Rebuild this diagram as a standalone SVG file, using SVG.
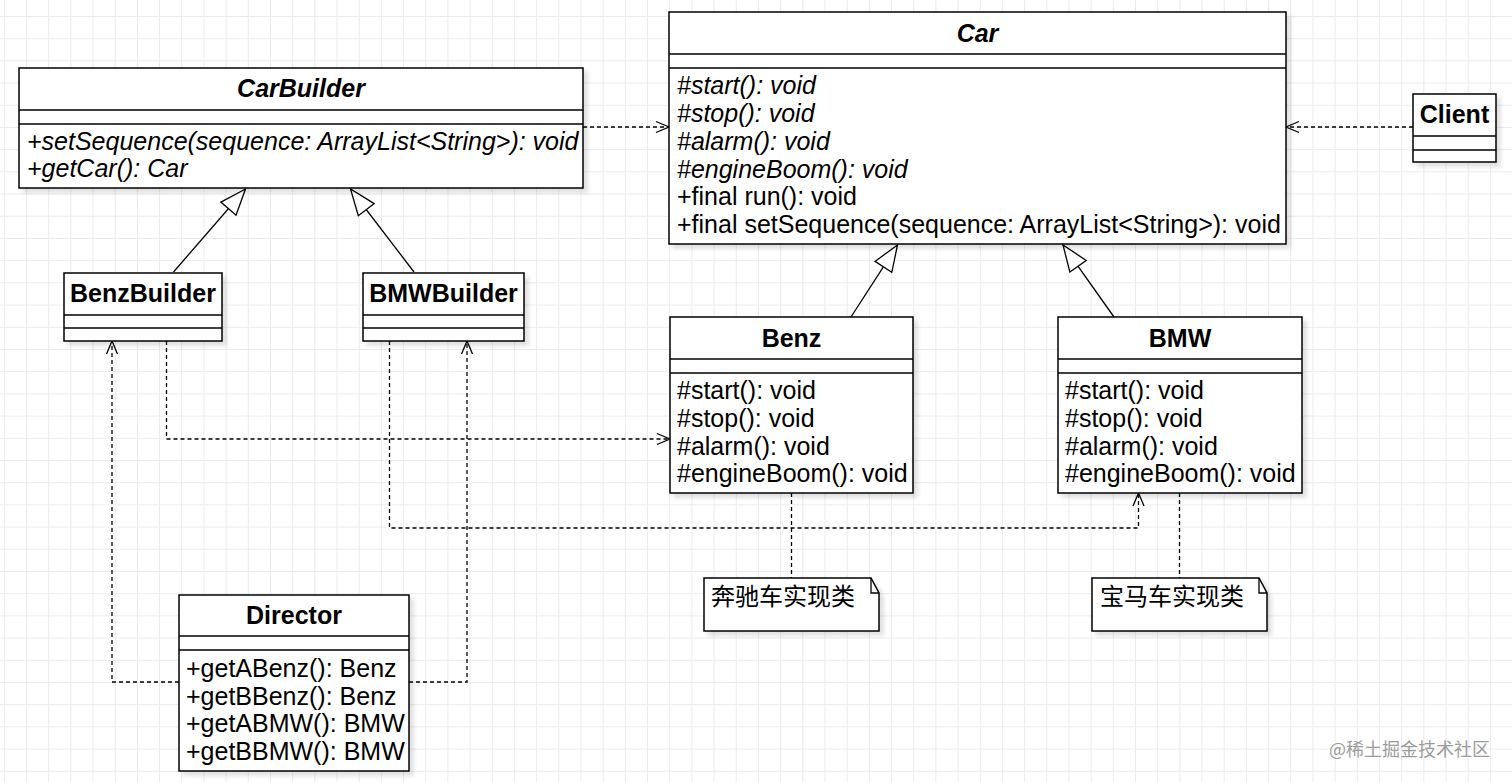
<svg xmlns="http://www.w3.org/2000/svg" width="1512" height="782" viewBox="0 0 1512 782">
<style>
.box{fill:#fff;stroke:#000;stroke-width:1.5}
.sep{stroke:#000;stroke-width:1.5;fill:none}
.t{font-family:"Liberation Sans",Arial,sans-serif;font-size:25px;fill:#000}
.b{font-weight:bold;text-anchor:middle}
.i{font-style:italic}
.cn{font-family:"Liberation Sans","Noto Sans CJK SC",sans-serif;font-size:24px;fill:#000}
.dash{fill:none;stroke:#000;stroke-width:1.3;stroke-dasharray:4 3}
.gen{fill:none;stroke:#000;stroke-width:1.3}
</style>
<defs>
<pattern id="grid" x="3.83" y="16" width="22.18" height="22.2" patternUnits="userSpaceOnUse">
<path d="M0,0.5 H22.18 M0.5,0 V22.2" stroke="#ebebeb" stroke-width="1" fill="none"/>
</pattern>
<filter id="sh" x="-5%" y="-5%" width="115%" height="120%">
<feDropShadow dx="4" dy="4" stdDeviation="2" flood-color="#000" flood-opacity="0.12"/>
</filter>
<marker id="open" viewBox="0 0 15 14" refX="14" refY="7" markerWidth="15" markerHeight="14" markerUnits="userSpaceOnUse" orient="auto">
<path d="M1,1.5 L14,7 L1,12.5" fill="none" stroke="#000" stroke-width="1.3"/>
</marker>
<marker id="tri" viewBox="0 0 28 22" refX="27" refY="11" markerWidth="28" markerHeight="22" markerUnits="userSpaceOnUse" orient="auto">
<path d="M1,1 L27,11 L1,21 Z" fill="#fff" stroke="#000" stroke-width="1.3"/>
</marker>
</defs>
<rect width="1512" height="782" fill="#fff"/>
<rect width="1512" height="782" fill="url(#grid)"/>

<g id="connectors">
<path class="dash" d="M583,127 H669" marker-end="url(#open)"/>
<path class="dash" d="M1413,127 H1286" marker-end="url(#open)"/>
<path class="gen" d="M173.5,272 L245.5,189" marker-end="url(#tri)"/>
<path class="gen" d="M414,272 L350.5,189" marker-end="url(#tri)"/>
<path class="gen" d="M851,317 L897.5,245" marker-end="url(#tri)"/>
<path class="gen" d="M1114,317 L1063,245" marker-end="url(#tri)"/>
<path class="dash" d="M166.5,341 V439 H670" marker-end="url(#open)"/>
<path class="dash" d="M389.5,341 V528 H1138.5 V493" marker-end="url(#open)"/>
<path class="dash" d="M179,682 H112 V341" marker-end="url(#open)"/>
<path class="dash" d="M409,682 H467 V341" marker-end="url(#open)"/>
<path class="dash" d="M791.5,493 V578"/>
<path class="dash" d="M1179.5,493 V578"/>
</g>

<g id="CarBuilder">
<rect class="box" x="19" y="68" width="564" height="120" filter="url(#sh)"/>
<path class="sep" d="M19,110 H583 M19,124 H583"/>
<text class="t b i" x="301" y="97">CarBuilder</text>
<text class="t i" x="27" y="150">+setSequence(sequence: ArrayList&lt;String&gt;): void</text>
<text class="t i" x="27" y="177">+getCar(): Car</text>
</g>

<g id="Car">
<rect class="box" x="669" y="12" width="617" height="232" filter="url(#sh)"/>
<path class="sep" d="M669,54 H1286 M669,68 H1286"/>
<text class="t b i" x="977.5" y="42">Car</text>
<text class="t i" x="677" y="94">#start(): void</text>
<text class="t i" x="677" y="122">#stop(): void</text>
<text class="t i" x="677" y="150">#alarm(): void</text>
<text class="t i" x="677" y="178">#engineBoom(): void</text>
<text class="t" x="677" y="205">+final run(): void</text>
<text class="t" x="677" y="233">+final setSequence(sequence: ArrayList&lt;String&gt;): void</text>
</g>

<g id="Client">
<rect class="box" x="1413" y="94" width="83" height="68" filter="url(#sh)"/>
<path class="sep" d="M1413,136 H1496 M1413,150 H1496"/>
<text class="t b" x="1454.5" y="123">Client</text>
</g>

<g id="BenzBuilder">
<rect class="box" x="64" y="273" width="158" height="68" filter="url(#sh)"/>
<path class="sep" d="M64,315 H222 M64,328 H222"/>
<text class="t b" x="143" y="302">BenzBuilder</text>
</g>

<g id="BMWBuilder">
<rect class="box" x="363" y="273" width="161" height="68" filter="url(#sh)"/>
<path class="sep" d="M363,315 H524 M363,328 H524"/>
<text class="t b" x="443.5" y="302">BMWBuilder</text>
</g>

<g id="Benz">
<rect class="box" x="670" y="317" width="243" height="176" filter="url(#sh)"/>
<path class="sep" d="M670,359 H913 M670,373 H913"/>
<text class="t b" x="791.5" y="347">Benz</text>
<text class="t" x="677" y="399">#start(): void</text>
<text class="t" x="677" y="427">#stop(): void</text>
<text class="t" x="677" y="455">#alarm(): void</text>
<text class="t" x="677" y="482">#engineBoom(): void</text>
</g>

<g id="BMW">
<rect class="box" x="1058" y="317" width="244" height="176" filter="url(#sh)"/>
<path class="sep" d="M1058,359 H1302 M1058,373 H1302"/>
<text class="t b" x="1180" y="347">BMW</text>
<text class="t" x="1065" y="399">#start(): void</text>
<text class="t" x="1065" y="427">#stop(): void</text>
<text class="t" x="1065" y="455">#alarm(): void</text>
<text class="t" x="1065" y="482">#engineBoom(): void</text>
</g>

<g id="Director">
<rect class="box" x="179" y="595" width="230" height="176" filter="url(#sh)"/>
<path class="sep" d="M179,636 H409 M179,650 H409"/>
<text class="t b" x="294" y="624">Director</text>
<text class="t" x="186" y="677">+getABenz(): Benz</text>
<text class="t" x="186" y="705">+getBBenz(): Benz</text>
<text class="t" x="186" y="732">+getABMW(): BMW</text>
<text class="t" x="186" y="760">+getBBMW(): BMW</text>
</g>

<g id="note-benz">
<path class="box" d="M704,578 H871 L879,593 V631 H704 Z" filter="url(#sh)"/>
<path class="gen" d="M871,578 V593 H879"/>
<text class="cn" x="711" y="605">奔驰车实现类</text>
</g>

<g id="note-bmw">
<path class="box" d="M1092,578 H1259 L1267,593 V631 H1092 Z" filter="url(#sh)"/>
<path class="gen" d="M1259,578 V593 H1267"/>
<text class="cn" x="1100" y="605">宝马车实现类</text>
</g>

<text x="1329" y="756" style="font-family:'Noto Sans CJK SC',sans-serif;font-size:18px;fill:#9c9c9c">@稀土掘金技术社区</text>
</svg>
